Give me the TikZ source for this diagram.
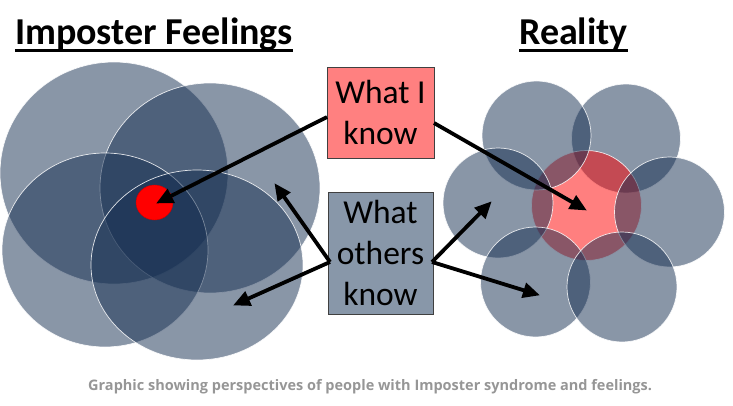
\documentclass[tikz,border=0pt]{standalone}
\usepackage{fontspec}
\setmainfont{Carlito}
\newfontfamily\capfont{Open Sans}
\usetikzlibrary{arrows.meta,shapes.geometric}
\definecolor{slate}{RGB}{20,45,80}
\definecolor{boxslate}{RGB}{136,151,169}
\definecolor{boxpink}{RGB}{255,128,128}
\definecolor{boxedge}{RGB}{64,64,64}
\definecolor{capgray}{RGB}{150,150,150}
\tikzset{
  bubble/.style={fill=slate, fill opacity=0.5, draw=white, draw opacity=0.85, line width=0.7pt},
  redbubble/.style={fill=red, fill opacity=0.5, draw=white, draw opacity=0.85, line width=0.7pt},
  labelbox/.style={draw=boxedge, line width=0.9pt, align=center, inner sep=0pt,
    font=\fontsize{33.5}{41}\selectfont},
  titletext/.style={anchor=base, inner sep=0pt, font=\bfseries\fontsize{38}{44}\selectfont},
  underl/.style={line width=2.4pt},
  pointer/.style={line width=3.8pt, -{Triangle[length=17pt,width=15pt]}, shorten >=-1pt},
}
\begin{document}
\begin{tikzpicture}[x=1pt,y=-1pt]
\useasboundingbox (0,0) rectangle (733,406);
% titles
\node[titletext] (t1) at (154,45) {Imposter Feelings};
\node[titletext] (t2) at (573.5,45) {Reality};
\draw[underl] ([yshift=-5.5pt]t1.base west) -- ([yshift=-5.5pt]t1.base east);
\draw[underl] ([yshift=-5.5pt]t2.base west) -- ([yshift=-5.5pt]t2.base east);
% left group
\path[bubble] (114,173) ellipse [x radius=114pt, y radius=111pt];
\path[bubble] (210,188) ellipse [x radius=110pt, y radius=105pt];
\path[bubble] (105,250) ellipse [x radius=103pt, y radius=97pt];
\path[bubble] (197,265) ellipse [x radius=106pt, y radius=95pt];
\node[ellipse, fill=red, draw=red!80!black, line width=0.4pt, minimum width=37pt, minimum height=35pt, inner sep=0pt] (dot) at (154.5,202.5) {};
% right group
\path[bubble] (626,138.5) circle [radius=54.5pt];
\path[redbubble] (586.5,205.5) circle [radius=55pt];
\path[bubble] (536.5,135.5) circle [radius=54.5pt];
\path[bubble] (498,203) circle [radius=55pt];
\path[bubble] (669.5,212) circle [radius=55pt];
\path[bubble] (535.5,282) circle [radius=55pt];
\path[bubble] (622,287) circle [radius=55pt];
% label boxes
\node[labelbox, fill=boxpink, minimum width=107pt, minimum height=91pt] (know) at (380.5,112.5) {What I\\know};
\node[labelbox, fill=boxslate, minimum width=105pt, minimum height=122pt] (others) at (380.5,253) {What\\others\\know};
% arrow targets
\coordinate (k1s) at (327,117);
\coordinate (k1e) at (157,203);
\coordinate (k2s) at (434,123);
\coordinate (k2e) at (586,210);
\coordinate (o1s) at (330,262);
\coordinate (o1e) at (275,184);
\coordinate (o2e) at (234,305);
\coordinate (o3s) at (432,262);
\coordinate (o3e) at (491,202);
\coordinate (o4e) at (539,295);
\draw[pointer] (k1s) -- (k1e);
\draw[pointer] (k2s) -- (k2e);
\draw[pointer] (o1s) -- (o1e);
\draw[pointer] (o1s) -- (o2e);
\draw[pointer] (o3s) -- (o3e);
\draw[pointer] (o3s) -- (o4e);
% caption
\node[anchor=base west, inner sep=0pt, text=capgray, font=\capfont\bfseries\fontsize{14.5}{17}\selectfont] (cap) at (88,390) {Graphic showing perspectives of people with Imposter syndrome and feelings.};
\end{tikzpicture}
\end{document}
